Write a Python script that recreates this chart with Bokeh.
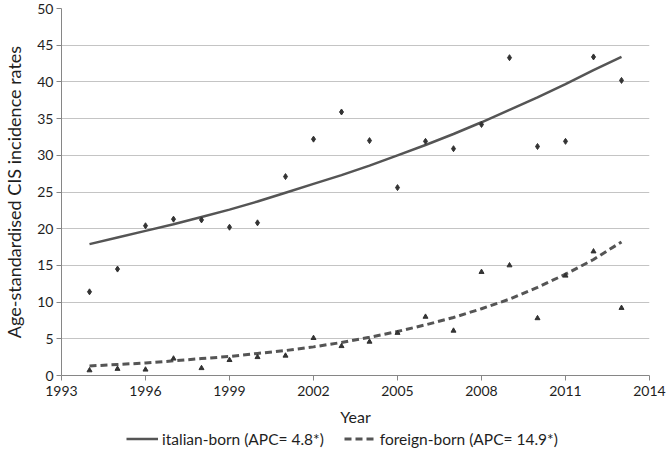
from bokeh.plotting import figure
from bokeh.models import Range1d, FixedTicker, Legend, LegendItem
from bokeh.layouts import column
from bokeh.embed import file_html
from bokeh.resources import INLINE

years = list(range(1994, 2014))
italian_rates = [11.4, 14.5, 20.4, 21.3, 21.2, 20.2, 20.8, 27.1, 32.2, 35.9,
                 32.0, 25.6, 31.9, 30.9, 34.2, 43.3, 31.2, 31.9, 43.4, 40.2]
foreign_rates = [0.7, 0.9, 0.8, 2.3, 1.0, 2.1, 2.5, 2.7, 5.1, 4.0,
                 4.6, 5.8, 8.0, 6.1, 14.1, 15.0, 7.8, 13.6, 16.9, 9.2]
italian_trend = [17.9, 18.8, 19.7, 20.6, 21.6, 22.6, 23.7, 24.9, 26.1, 27.3,
                 28.6, 30.0, 31.4, 32.9, 34.5, 36.2, 37.9, 39.7, 41.6, 43.4]
foreign_trend = [1.3, 1.5, 1.7, 2.0, 2.3, 2.6, 3.0, 3.4, 3.9, 4.5,
                 5.2, 6.0, 6.9, 7.9, 9.1, 10.4, 12.0, 13.8, 15.8, 18.2]
x_ticks = [1993, 1996, 1999, 2002, 2005, 2008, 2011, 2014]
y_ticks = [0, 5, 10, 15, 20, 25, 30, 35, 40, 45, 50]
label_italian = "italian-born (APC= 4.8*)"
label_foreign = "foreign-born (APC= 14.9*)"

FONT = "Lato"
AXIS_COLOR = "#868686"
TEXT_COLOR = "#1e1e1e"
LINE_COLOR = "#555555"
SOLID = dict(line_color=LINE_COLOR, line_width=2.5)
DASHED = dict(line_color=LINE_COLOR, line_width=3, line_dash="7 4")

p = figure(width=666, height=429, output_backend="svg", toolbar_location=None,
           x_range=Range1d(1993, 2014), y_range=Range1d(0, 50),
           min_border_left=55, min_border_right=17, min_border_top=8,
           min_border_bottom=54)
p.outline_line_color = None
p.background_fill_color = "white"
p.border_fill_color = "white"

p.xgrid.visible = False
p.ygrid.grid_line_color = "#c4c4c4"
p.ygrid.grid_line_width = 1
p.ygrid.ticker = FixedTicker(ticks=y_ticks)

for ax in (p.xaxis[0], p.yaxis[0]):
    ax.axis_line_color = AXIS_COLOR
    ax.major_tick_line_color = AXIS_COLOR
    ax.major_tick_out = 5
    ax.major_tick_in = 0
    ax.minor_tick_line_color = None
    ax.major_label_text_font = FONT
    ax.major_label_text_font_size = "14px"
    ax.major_label_text_color = TEXT_COLOR
    ax.axis_label_text_font = FONT
    ax.axis_label_text_font_style = "normal"
    ax.axis_label_text_color = TEXT_COLOR

p.xaxis.ticker = FixedTicker(ticks=x_ticks)
p.yaxis.ticker = FixedTicker(ticks=y_ticks)
p.xaxis.major_label_standoff = 5
p.yaxis.major_label_standoff = 3
p.xaxis.axis_label = "Year"
p.xaxis.axis_label_text_font_size = "16px"
p.xaxis.axis_label_standoff = 8
p.yaxis.axis_label = "Age-standardised CIS incidence rates"
p.yaxis.axis_label_text_font_size = "18px"
p.yaxis.axis_label_standoff = 9

p.line(years, italian_trend, **SOLID)
p.line(years, foreign_trend, **DASHED)
p.scatter(years, italian_rates, marker="diamond", size=6, color="#333333")
p.scatter(years, foreign_rates, marker="triangle", size=5, color="#333333")

# legend strip below the chart (its lines lie outside its own ranges)
lg = figure(width=666, height=19, output_backend="svg", toolbar_location=None,
            x_range=Range1d(0, 1), y_range=Range1d(0, 1),
            min_border_left=0, min_border_right=0, min_border_top=0,
            min_border_bottom=0, x_axis_type=None, y_axis_type=None)
lg.outline_line_color = None
lg.xgrid.visible = False
lg.ygrid.visible = False
l_it = lg.line(years, italian_trend, **SOLID)
l_fo = lg.line(years, foreign_trend, **DASHED)
legend = Legend(items=[LegendItem(label=label_italian, renderers=[l_it]),
                       LegendItem(label=label_foreign, renderers=[l_fo])],
                orientation="horizontal", location=(65, 0),
                border_line_color=None, background_fill_alpha=0,
                label_text_font=FONT, label_text_font_size="15.5px",
                label_text_color=TEXT_COLOR, label_standoff=4,
                glyph_width=32, glyph_height=19, label_height=19,
                spacing=20, padding=0, margin=0)
lg.add_layout(legend, "center")

layout = column(p, lg, spacing=0)
open("out.html", "w").write(file_html(layout, INLINE))
